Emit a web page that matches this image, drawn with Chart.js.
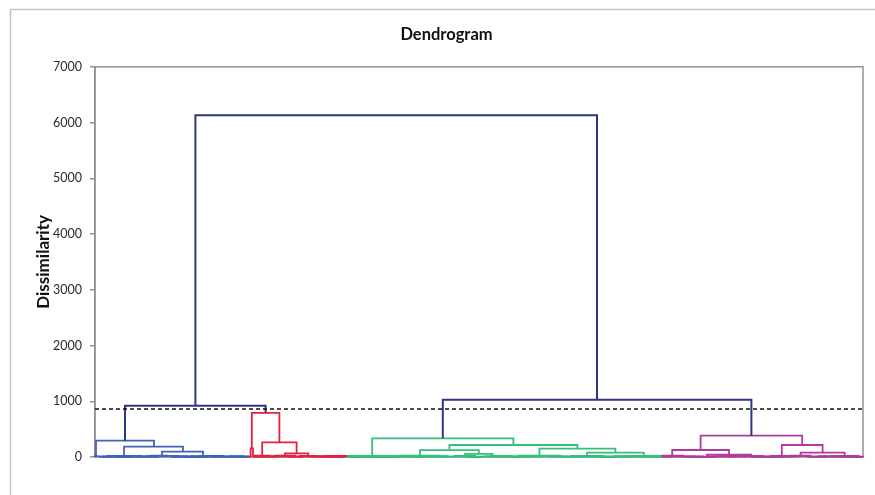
<!DOCTYPE html>
<html>
<head>
<meta charset="utf-8">
<script src="https://cdn.jsdelivr.net/npm/chart.js@4.4.0/dist/chart.umd.min.js"></script>
<style>
html, body { margin: 0; padding: 0; background: #fff; }
#wrap { width: 875px; height: 495px; }
</style>
</head>
<body>
<div id="wrap"><canvas id="myChart" width="875" height="495"></canvas></div>
<script>
// observations along the x axis, dissimilarity on y
var nLeaves = 192;
var cutLevel = 860;
var yMax = 7000;
var yStep = 1000;
var groupColors = ['#2e3584', '#4263b6', '#e5203f', '#33bf7c', '#b03a9e'];

// main links: left leg x, right leg x, merge height, bottom of left leg, bottom of right leg, group
var linkLeft   = [25.1, 7.5, 86.95,  0.25, 7.25, 16.75,  39.2, 38.9, 41.8, 47.5,  69.3, 88.6, 81.25, 92.5, 111.1, 123,   151.4, 144.3, 171.7, 176.4];
var linkRight  = [125.5, 42.65, 164.1,  14.75, 22, 27,  46.1, 39.5, 50.4, 53.3,  104.6, 120.6, 95.95, 99.4, 130.1, 137.2,  176.8, 158.5, 181.9, 187.4];
var linkHeight = [6130, 920, 1025,  293, 185, 95,  790, 155, 263, 66,  335, 215, 125, 55, 150, 78,  383, 126, 215, 78];
var linkBaseL  = [920, 293, 335,  12, 18, 14,  155, 0, 20, 20,  15, 125, 20, 15, 20, 15,  126, 20, 15, 20];
var linkBaseR  = [1025, 790, 383,  185, 95, 10,  263, 0, 66, 15,  215, 150, 55, 10, 78, 15,  215, 40, 78, 15];
var linkGroup  = [0, 0, 0,  1, 1, 1,  2, 2, 2, 2,  3, 3, 3, 3, 3, 3,  4, 4, 4, 4];

// small merges near the bottom (both legs start at 0)
var fineLeft   = [0, 3, 13, 24, 1, 8, 19, 29, 32, 5, 2, 6, 10, 14, 20, 22, 26, 34, 35,
                  40, 45, 51.3, 55, 42, 57, 38.3, 39.5, 44, 48, 53, 58, 60,
                  63, 76.5, 90, 97.4, 106, 119, 133, 65, 78, 101, 127, 113, 84,
                  62.8, 66, 70, 73, 80, 86, 93, 99, 104, 108, 116, 121, 125, 130, 136, 139,
                  141.6, 153, 169, 174, 184, 147, 164, 189, 155,
                  141.6, 144, 150, 158, 162, 167, 172, 178, 181, 186];
var fineRight  = [0.5, 11.5, 20.5, 30, 5, 13, 25, 34, 38.2, 9, 4, 10, 16, 18, 23, 28, 32, 37, 38.2,
                  43.6, 50, 55.3, 62.7, 45, 61, 38.9, 42, 48, 52, 58, 62.7, 62,
                  75.6, 86, 95, 101.4, 116.2, 127, 141.4, 70, 82, 106, 133, 118, 88,
                  66, 72, 76, 79, 85, 91, 97, 104, 109, 112, 121, 125, 130, 135, 139, 141.4,
                  147, 164, 174.4, 178.8, 190.8, 152, 169, 192, 160,
                  144, 150, 155, 163, 167, 172, 176, 183, 186, 191];
var fineHeight = [12, 18, 14, 10, 6, 9, 7, 5, 8, 4, 3, 12, 5, 22, 11, 4, 16, 10, 3,
                  20, 20, 15, 10, 8, 5, 4, 6, 12, 5, 9, 14, 3,
                  15, 20, 15, 10, 20, 15, 15, 6, 8, 7, 6, 9, 10,
                  4, 10, 3, 12, 5, 9, 4, 14, 5, 12, 6, 11, 3, 10, 5, 8,
                  20, 40, 15, 20, 15, 8, 6, 4, 12,
                  5, 9, 4, 10, 14, 4, 10, 6, 11, 6];
var fineGroup  = [1, 1, 1, 1, 1, 1, 1, 1, 1, 1, 1, 1, 1, 1, 1, 1, 1, 1, 1,
                  2, 2, 2, 2, 2, 2, 2, 2, 2, 2, 2, 2, 2,
                  3, 3, 3, 3, 3, 3, 3, 3, 3, 3, 3, 3, 3,
                  3, 3, 3, 3, 3, 3, 3, 3, 3, 3, 3, 3, 3, 3, 3, 3,
                  4, 4, 4, 4, 4, 4, 4, 4, 4,
                  4, 4, 4, 4, 4, 4, 4, 4, 4, 4];

var datasets = [];
datasets.push({
	data: [{x: 0, y: cutLevel}, {x: nLeaves, y: cutLevel}],
	borderColor: '#111',
	borderWidth: 1.6,
	borderDash: [4, 3]
});
for (var i = 0; i < linkLeft.length; i++) {
	datasets.push({
		data: [
			{x: linkLeft[i], y: linkBaseL[i]},
			{x: linkLeft[i], y: linkHeight[i]},
			{x: linkRight[i], y: linkHeight[i]},
			{x: linkRight[i], y: linkBaseR[i]}
		],
		borderColor: groupColors[linkGroup[i]],
		borderWidth: linkGroup[i] == 0 ? 2 : 1.8
	});
}
for (var j = 0; j < fineLeft.length; j++) {
	datasets.push({
		data: [
			{x: fineLeft[j], y: 0},
			{x: fineLeft[j], y: fineHeight[j]},
			{x: fineRight[j], y: fineHeight[j]},
			{x: fineRight[j], y: 0}
		],
		borderColor: groupColors[fineGroup[j]],
		borderWidth: 2.2
	});
}
datasets.forEach(function(d) {
	d.showLine = true;
	d.pointRadius = 0;
	d.pointHoverRadius = 0;
	d.tension = 0;
	d.clip = false;
});

var framePlugin = {
	id: 'frame',
	beforeDraw: function(chart) {
		var ctx = chart.ctx;
		ctx.save();
		ctx.fillStyle = '#fff';
		ctx.fillRect(0, 0, chart.width, chart.height);
		ctx.strokeStyle = '#c4c4c4';
		ctx.lineWidth = 1.5;
		ctx.strokeRect(10.5, 9.5, chart.width + 20, chart.height + 20);
		ctx.restore();
	},
	beforeDatasetsDraw: function(chart) {
		var a = chart.chartArea, ctx = chart.ctx;
		ctx.save();
		ctx.strokeStyle = '#939393';
		ctx.lineWidth = 1.5;
		ctx.strokeRect(a.left, a.top, a.right - a.left, a.bottom - a.top);
		ctx.restore();
	}
};

var ctx = document.getElementById('myChart');
var myChart = new Chart(ctx, {
	type: 'scatter',
	data: {datasets: datasets},
	plugins: [framePlugin],
	options: {
		responsive: false,
		animation: false,
		layout: {padding: {left: 30, right: 12, top: 10, bottom: 38}},
		plugins: {
			legend: {display: false},
			tooltip: {enabled: false},
			title: {
				display: true,
				text: 'Dendrogram',
				color: '#111',
				font: {family: 'Lato', size: 16.5, weight: 'bold'},
				padding: {top: 15, bottom: 22}
			}
		},
		scales: {
			x: {
				type: 'linear',
				min: 0,
				max: nLeaves,
				display: false
			},
			y: {
				min: 0,
				max: yMax,
				afterFit: function(scale) { scale.width = 65; },
				ticks: {
					stepSize: yStep,
					padding: 8,
					color: '#2a2a2a',
					font: {family: 'Lato', size: 12.5},
					callback: function(v) { return String(v); }
				},
				grid: {
					drawOnChartArea: false,
					tickLength: 5,
					color: '#939393',
					lineWidth: 1.5
				},
				border: {display: true, color: '#939393', width: 1.5},
				title: {
					display: true,
					text: 'Dissimilarity',
					color: '#111',
					font: {family: 'Lato', size: 17, weight: 'bold'},
					padding: {top: 3, bottom: 0}
				}
			}
		}
	}
});
</script>
</body>
</html>
